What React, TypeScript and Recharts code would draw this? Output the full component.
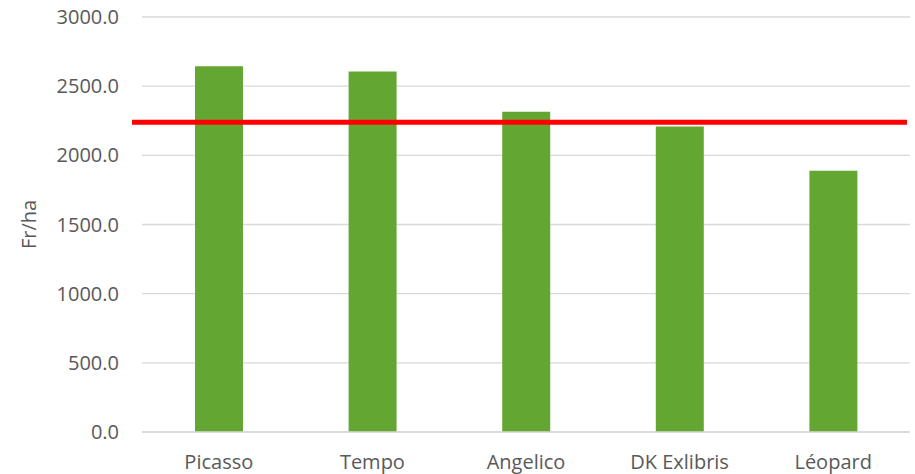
import React from "react";
import { BarChart, Bar, XAxis, YAxis, CartesianGrid, ReferenceLine } from "recharts";

const varieties = ["Picasso", "Tempo", "Angelico", "DK Exlibris", "Léopard"];
const revenue = [2644, 2606, 2315, 2208, 1888];
const yTicks = [0, 500, 1000, 1500, 2000, 2500, 3000];
const meanLine = 2240;

const data = varieties.map((name, i) => ({ name, value: revenue[i] }));

const FONT = "'Open Sans', sans-serif";
const TEXT = "#595959";

// red line in the source runs a little past the left edge of the plot
const WideLine = (props: any) => {
  const { x1, x2, y1, y2 } = props;
  return <line x1={x1 - 10} x2={x2 - 3} y1={y1} y2={y2} stroke="#ff0000" strokeWidth={5} />;
};

export default function App() {
  return (
    <div style={{ position: "fixed", top: 0, left: 0, width: 915, height: 474, background: "#fff" }}>
      <BarChart width={915} height={474} data={data} margin={{ top: 17, right: 5, left: 0, bottom: 11 }}>
        <CartesianGrid stroke="#d9d9d9" strokeWidth={1.3} vertical={false} />
        <XAxis
          dataKey="name"
          axisLine={{ stroke: "#d9d9d9", strokeWidth: 1.3 }}
          tickLine={false}
          tickSize={0}
          tickMargin={23}
          height={31}
          tick={{ fontSize: 20, fill: TEXT, fontFamily: FONT }}
        />
        <YAxis
          domain={[0, 3000]}
          ticks={yTicks}
          width={142}
          axisLine={false}
          tickLine={false}
          tickSize={0}
          tickMargin={23}
          tickFormatter={(v: number) => v.toFixed(1)}
          tick={{ fontSize: 20, fill: TEXT, fontFamily: FONT }}
          label={{ value: "Fr/ha", angle: -90, position: "insideLeft", offset: 29, style: { fontSize: 20, fill: TEXT, fontFamily: FONT, textAnchor: "middle" } }}
        />
        <Bar dataKey="value" fill="#64a632" barSize={48} isAnimationActive={false} />
        <ReferenceLine y={meanLine} shape={WideLine} />
      </BarChart>
    </div>
  );
}
